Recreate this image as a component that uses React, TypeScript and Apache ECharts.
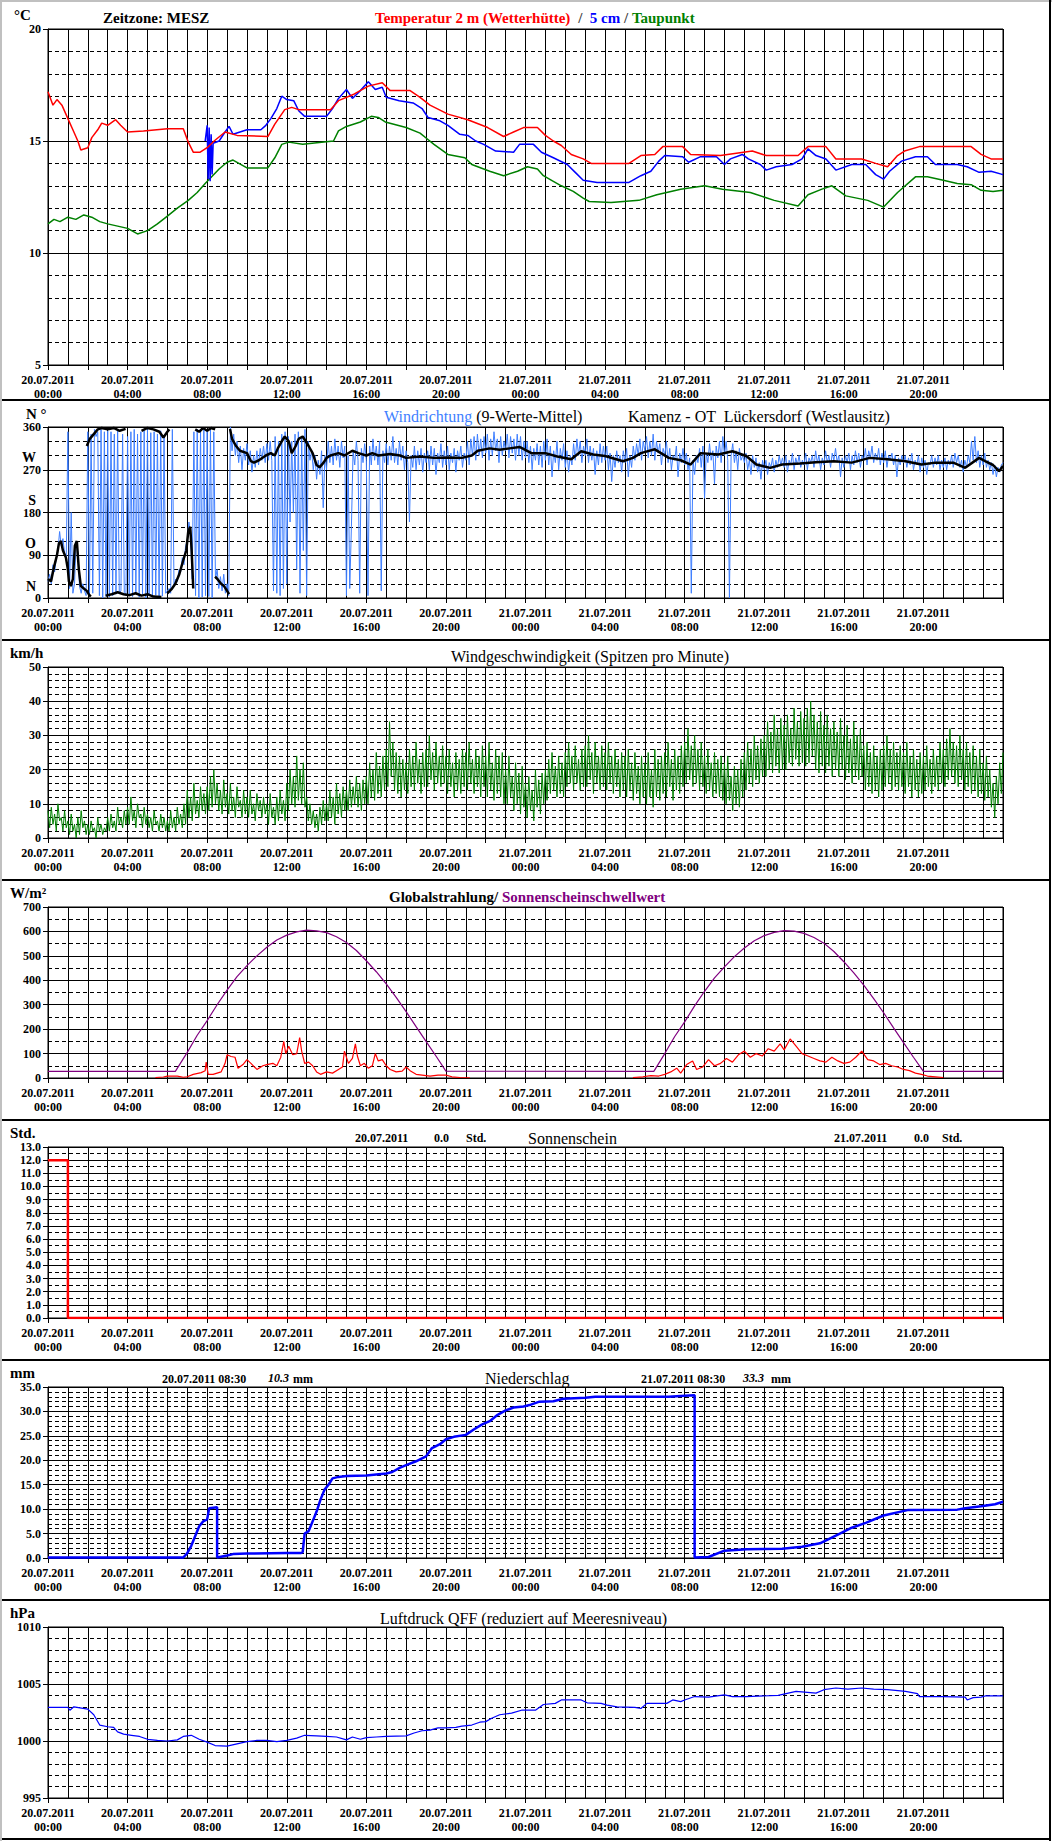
import React, { useEffect, useRef } from 'react';
import * as echarts from 'echarts';

const FONT = '"Liberation Serif", "Times New Roman", Times, serif';

// ---- tick labels ----
const dateLabels = ['20.07.2011', '21.07.2011'];
const hourLabels = ['00:00', '04:00', '08:00', '12:00', '16:00', '20:00'];

// ---- Temperature [hour, °C] ----
const temp2m = [[0,17.2],[0.25,16.6],[0.45,16.85],[0.7,16.6],[0.9,16.2],[1.05,15.9],[1.25,15.5],[1.5,15.0],[1.65,14.6],[2.0,14.7],[2.2,15.15],[2.5,15.5],[2.7,15.8],[3.0,15.7],[3.4,15.95],[3.65,15.7],[4.0,15.4],[4.8,15.45],[6.0,15.55],[6.8,15.55],[7.05,14.95],[7.3,14.5],[7.65,14.5],[8.0,14.7],[8.35,15.0],[8.9,15.4],[9.5,15.25],[11.05,15.2],[11.4,15.75],[11.9,16.4],[12.25,16.5],[12.6,16.4],[14.2,16.4],[14.6,16.8],[15.4,17.1],[16.1,17.45],[16.8,17.6],[17.2,17.25],[18.2,17.25],[18.7,16.95],[19.2,16.6],[20.1,16.2],[21.1,15.95],[22.1,15.6],[22.9,15.2],[23.4,15.4],[23.9,15.6],[24.6,15.6],[25.0,15.25],[25.4,15.0],[25.8,14.8],[26.3,14.4],[26.9,14.2],[27.3,14.0],[29.2,14.0],[29.8,14.35],[30.5,14.4],[30.9,14.75],[31.9,14.75],[32.3,14.4],[33.8,14.35],[35.4,14.55],[36.1,14.35],[37.7,14.35],[38.2,14.75],[39.1,14.75],[39.6,14.2],[40.9,14.2],[41.6,14.0],[42.2,13.85],[42.7,14.35],[43.05,14.55],[43.8,14.75],[46.4,14.75],[46.9,14.4],[47.4,14.2],[48,14.2]];
const temp5cm = [[7.9,15.0],[8.0,15.7],[8.05,13.3],[8.1,15.6],[8.15,13.2],[8.2,15.3],[8.25,13.5],[8.3,14.9],[8.6,15.0],[8.9,15.4],[9.1,15.65],[9.3,15.3],[9.65,15.4],[10.0,15.5],[10.7,15.5],[10.95,15.7],[11.2,16.0],[11.5,16.45],[11.75,17.0],[12.0,16.85],[12.35,16.8],[12.6,16.35],[12.9,16.1],[14.0,16.1],[14.3,16.45],[14.6,16.9],[15.0,17.3],[15.3,16.9],[15.7,17.25],[16.1,17.65],[16.45,17.3],[16.8,17.4],[17.0,16.95],[17.65,16.8],[18.35,16.7],[18.8,16.45],[19.1,16.05],[19.7,15.9],[20.1,15.7],[20.7,15.3],[21.1,15.25],[21.5,15.0],[21.9,14.85],[22.5,14.55],[23.4,14.5],[23.7,14.85],[24.4,14.85],[24.8,14.5],[25.4,14.25],[26.1,13.95],[26.5,13.6],[26.9,13.25],[27.6,13.15],[29.2,13.15],[29.8,13.45],[30.3,13.65],[30.7,14.1],[31.0,14.35],[31.9,14.3],[32.2,14.05],[32.8,14.3],[33.6,14.3],[34.0,13.95],[34.3,14.2],[34.9,14.4],[35.2,14.2],[35.8,13.95],[36.1,13.7],[36.6,13.85],[37.4,13.95],[37.9,14.2],[38.2,14.65],[38.6,14.35],[39.1,14.2],[39.6,13.7],[40.4,13.95],[41.1,13.95],[41.6,13.5],[42.0,13.3],[42.3,13.65],[42.9,14.1],[43.6,14.3],[44.2,14.3],[44.6,13.95],[45.7,13.95],[46.2,13.85],[46.8,13.6],[47.4,13.65],[48,13.5]];
const dewPoint = [[0,11.3],[0.3,11.5],[0.6,11.4],[1.0,11.6],[1.4,11.5],[1.8,11.7],[2.2,11.6],[2.6,11.4],[3.0,11.3],[3.5,11.2],[4.0,11.1],[4.5,10.85],[5.0,11.0],[5.5,11.3],[6.0,11.65],[6.5,12.0],[7.05,12.35],[7.5,12.7],[7.9,13.1],[8.6,13.75],[9.0,14.05],[9.3,14.15],[10.0,13.8],[11.05,13.8],[11.4,14.25],[11.75,14.85],[12.1,14.95],[12.8,14.85],[14.35,15.0],[14.6,15.45],[15.0,15.65],[15.7,15.85],[16.25,16.1],[16.6,16.05],[16.95,15.85],[18.0,15.6],[18.7,15.35],[19.05,15.1],[19.4,14.85],[20.1,14.4],[20.95,14.25],[21.3,13.95],[22.2,13.65],[22.9,13.45],[23.6,13.65],[24.1,13.85],[24.6,13.75],[24.9,13.45],[25.4,13.2],[25.8,13.0],[26.4,12.75],[26.9,12.45],[27.2,12.3],[28.3,12.25],[29.7,12.35],[30.6,12.6],[31.8,12.85],[33.0,13.0],[33.9,12.85],[35.3,12.7],[36.5,12.35],[37.7,12.1],[38.2,12.6],[38.9,12.85],[39.4,13.0],[40.1,12.55],[41.2,12.35],[42.0,12.05],[42.7,12.7],[43.6,13.4],[44.2,13.4],[45.0,13.25],[45.7,13.1],[46.4,13.05],[46.9,12.8],[47.5,12.75],[48,12.8]];

// ---- Wind direction, raw values every 5 minutes (one row per hour) ----
const windDirRaw = [
  35,50,30,70,55,85,100,140,110,125,95,80,
  350,20,180,10,30,120,95,25,10,30,15,5,
  350,5,345,10,355,340,350,5,355,0,350,3,
  352,2,350,5,345,8,355,10,15,345,12,5,
  340,5,350,3,355,10,345,2,350,8,352,0,
  355,5,348,2,350,6,345,0,352,4,340,10,
  15,20,10,355,25,40,35,60,55,85,70,110,
  120,160,130,40,350,5,355,0,350,2,358,5,
  352,3,355,0,350,40,60,20,45,15,50,10,
  30,5,360,310,345,300,330,285,320,270,315,290,
  325,280,310,265,300,275,310,280,315,290,320,285,
  325,290,330,290,15,340,10,330,5,345,20,350,
  30,340,160,330,180,345,60,350,10,340,100,355,
  5,330,290,310,270,300,250,290,260,310,190,300,
  270,330,285,320,280,335,290,320,275,330,295,320,
  5,300,20,150,310,280,330,290,10,315,285,325,
  290,5,320,280,335,290,320,280,330,15,310,285,
  325,280,320,290,340,285,315,280,330,290,320,270,
  310,285,160,300,275,320,270,310,280,315,265,305,
  285,310,270,320,280,315,260,305,285,325,275,310,
  280,320,270,305,285,315,265,310,290,320,275,305,
  290,330,280,335,300,340,290,345,300,335,295,340,
  305,345,290,335,300,350,310,335,285,340,300,330,
  310,345,295,340,305,335,290,345,300,340,290,330,
  295,330,285,320,270,315,290,325,280,320,275,330,
  290,335,280,320,255,310,285,330,270,315,290,325,
  275,310,265,300,280,325,290,335,300,330,285,320,
  300,335,285,320,290,315,260,310,280,325,285,320,
  290,320,270,305,245,300,275,310,285,300,265,310,
  285,315,255,300,275,320,290,325,300,335,290,330,
  310,340,295,330,300,345,290,330,305,325,280,315,
  300,330,285,315,270,300,290,320,255,305,285,315,
  280,305,270,295,10,290,260,300,285,315,275,320,
  210,305,285,325,290,310,240,320,295,330,285,340,
  300,330,290,0,300,325,285,310,270,315,290,300,
  285,305,270,290,260,300,275,295,265,285,250,290,
  270,290,260,285,275,295,265,290,275,300,280,295,
  275,300,265,290,280,305,270,295,280,300,275,290,
  280,305,270,295,285,300,275,310,285,300,270,295,
  280,310,285,300,275,305,290,315,285,300,255,295,
  275,300,285,305,270,300,280,310,285,305,275,300,
  290,315,280,310,295,320,285,305,290,315,280,305,
  285,310,275,300,290,305,280,300,255,295,280,300,
  285,300,275,295,280,305,270,290,280,300,265,295,
  275,290,260,285,280,300,275,295,280,300,270,290,
  275,295,270,290,280,300,275,305,285,300,275,290,
  265,290,275,300,285,330,290,340,285,310,275,300,
  280,305,275,290,270,285,260,280,255,275,265,280,
  285
];
// 9-value mean [hour, deg], '-' = break at 0/360 wrap
const windDirMean = [[0,40],[0.15,35],[0.3,65],[0.45,90],[0.55,115],[0.65,120],[0.75,100],[0.9,85],[1.0,60],[1.05,35],[1.15,25],[1.25,40],[1.35,110],[1.45,120],[1.55,60],[1.65,25],[1.8,20],[1.95,15],[2.05,8],[2.15,3],[2.2,'-'],
[1.95,320],[2.1,335],[2.3,345],[2.5,355],[2.7,358],[3.0,355],[3.3,358],[3.6,352],[3.9,356],[3.95,'-'],
[2.9,5],[3.2,8],[3.5,12],[3.8,8],[4.1,6],[4.4,10],[4.7,5],[5.0,8],[5.3,3],[5.7,2],[5.75,'-'],
[4.7,352],[5.0,358],[5.3,355],[5.6,350],[5.8,338],[6.0,350],[6.1,355],[6.15,'-'],
[6.0,10],[6.2,18],[6.4,30],[6.6,50],[6.8,80],[6.95,100],[7.05,140],[7.15,150],[7.22,100],[7.3,20],[7.35,'-'],
[7.4,355],[7.6,350],[7.8,358],[8.0,352],[8.2,358],[8.4,355],[8.42,'-'],
[8.4,45],[8.55,38],[8.7,30],[8.85,25],[9.0,15],[9.1,8],[9.12,'-'],
[9.15,356],[9.25,335],[9.45,320],[9.65,310],[10.0,305],[10.2,288],[10.35,285],[10.6,290],[10.95,300],[11.2,305],[11.4,300],[11.55,315],[11.75,330],[11.9,340],[12.1,330],[12.25,305],[12.45,320],[12.6,335],[12.8,340],[12.95,330],[13.1,320],[13.3,305],[13.5,280],[13.65,275],[13.85,285],[14.0,295],[14.2,300],[14.6,305],[14.9,300],[15.3,310],[15.6,305],[16.0,300],[16.3,305],[16.6,300],[17.2,303],[17.7,300],[18.0,295],[18.7,298],[19.4,295],[20.1,296],[20.8,295],[21.3,300],[21.6,310],[22.2,315],[22.7,312],[23.2,315],[23.7,318],[24.3,305],[25.0,305],[25.6,298],[26.3,292],[26.8,309],[27.4,302],[28.0,299],[28.9,288],[29.4,295],[29.8,305],[30.5,313],[31.2,295],[31.8,290],[32.3,281],[32.8,305],[33.7,302],[34.4,309],[35.1,299],[35.6,281],[36.3,274],[36.9,281],[37.8,283],[38.6,286],[39.5,288],[40.4,285],[41.3,295],[42.2,292],[43.1,288],[43.9,281],[44.6,285],[45.5,285],[46.1,274],[46.8,295],[47.1,288],[47.5,280],[47.8,267],[48,278]];

// ---- Wind speed peaks, every 5 minutes (one row per hour) ----
const windSpeed = [
  8,3,9,4,7,2,10,5,6,2,8,3,
  5,1,7,2,4,0,6,1,8,3,5,1,
  4,1,5,2,3,0,6,2,4,1,3,2,
  6,2,7,3,5,2,9,4,6,3,8,4,
  9,4,12,5,8,3,10,6,7,3,9,4,
  7,3,6,2,8,4,5,2,7,3,6,2,
  5,2,8,3,6,2,9,4,7,3,10,4,
  14,6,12,5,16,7,11,6,15,8,13,7,
  15,8,18,9,20,10,16,8,14,7,17,9,
  13,7,16,8,12,6,15,9,11,6,14,7,
  12,6,14,7,10,5,13,8,11,6,12,7,
  10,4,13,6,9,4,12,5,14,7,11,5,
  16,8,20,10,18,9,24,11,20,10,22,9,
  12,5,10,4,8,3,7,2,9,4,11,5,
  10,5,14,6,12,4,16,7,13,6,15,8,
  14,8,17,9,15,10,18,9,16,8,17,10,
  18,10,22,12,20,11,25,13,21,12,24,14,
  26,15,34,18,28,14,25,13,24,12,23,14,
  22,13,26,15,24,14,28,16,23,13,25,15,
  26,15,30,17,25,14,28,16,24,15,27,16,
  24,13,26,15,22,12,25,14,23,13,26,15,
  25,14,28,16,23,13,26,15,24,12,27,15,
  24,12,28,14,22,11,26,13,24,12,25,10,
  20,10,24,12,18,8,22,10,19,7,21,9,
  16,6,18,8,14,5,20,9,17,7,19,10,
  20,11,23,13,25,14,21,12,24,13,22,12,
  25,15,28,16,24,14,27,16,23,14,26,15,
  27,15,30,17,25,13,28,16,24,14,27,15,
  25,14,28,16,24,13,26,15,23,12,25,14,
  24,12,26,14,22,11,25,13,21,10,24,12,
  22,10,25,12,20,9,26,12,23,11,24,13,
  25,12,28,15,23,11,26,14,24,13,27,15,
  28,16,32,17,27,15,30,16,26,14,28,15,
  24,13,26,14,22,12,25,13,23,12,24,11,
  22,10,24,11,18,8,21,10,20,9,23,12,
  25,14,28,16,26,15,30,17,27,16,29,18,
  30,18,34,20,31,19,36,21,32,19,35,20,
  33,20,36,22,32,21,38,23,34,21,37,22,
  35,21,38,22,40,24,36,20,34,19,37,21,
  33,19,36,21,32,18,34,20,31,18,35,20,
  30,17,33,19,29,16,34,18,30,17,32,18,
  27,14,28,15,25,13,27,14,24,12,26,14,
  27,15,30,16,26,14,28,15,25,14,27,15,
  25,13,28,15,24,12,26,14,23,12,25,13,
  24,14,27,15,23,13,26,15,24,14,28,16,
  26,15,29,17,32,18,28,16,27,15,30,17,
  26,14,28,15,25,13,27,14,24,12,26,13,
  22,11,24,12,20,9,16,6,18,10,22,13,
  25
];

// ---- Global radiation / sunshine threshold [hour, W/m²] ----
const sunThreshold = [[0,27],[6.4,27],[7.0,105],[7.5,175],[8.0,235],[8.5,300],[9.0,360],[9.5,415],[10.0,460],[10.5,500],[11.0,535],[11.5,565],[12.0,585],[12.5,598],[13.0,605],[13.5,602],[14.0,595],[14.5,578],[15.0,555],[15.5,522],[16.0,480],[16.5,435],[17.0,385],[17.5,330],[18.0,272],[18.5,210],[19.0,150],[19.5,90],[20.0,28],[30.45,27],[31.0,100],[31.5,170],[32.0,230],[32.5,295],[33.0,355],[33.5,410],[34.0,455],[34.5,497],[35.0,532],[35.5,562],[36.0,583],[36.5,596],[37.0,603],[37.5,601],[38.0,592],[38.5,575],[39.0,552],[39.5,518],[40.0,476],[40.5,430],[41.0,380],[41.5,325],[42.0,267],[42.5,205],[43.0,145],[43.5,85],[44.0,27],[48,27]];
const globalRad = [[5.4,2],[5.8,4],[6.0,8],[6.5,8],[6.8,3],[7.0,5],[7.3,15],[7.7,22],[7.9,30],[7.95,65],[8.05,15],[8.3,15],[8.7,25],[8.9,60],[9.0,95],[9.2,88],[9.4,85],[9.55,40],[9.8,55],[10.0,75],[10.2,60],[10.5,35],[10.8,50],[11.0,55],[11.3,60],[11.5,50],[11.7,85],[11.85,150],[11.95,100],[12.1,130],[12.3,95],[12.5,100],[12.65,165],[12.75,110],[12.9,60],[13.1,65],[13.3,50],[13.5,25],[13.7,15],[14.0,25],[14.3,20],[14.6,35],[14.8,45],[14.9,110],[15.1,60],[15.3,80],[15.45,140],[15.55,90],[15.7,50],[15.9,60],[16.1,40],[16.3,50],[16.45,100],[16.6,70],[16.8,75],[17.0,50],[17.2,35],[17.5,25],[17.8,28],[18.0,45],[18.2,30],[18.5,15],[18.8,12],[19.2,8],[19.6,12],[20.0,12],[20.3,5],[20.7,2],[21.2,1],[21.3,'-'],
[29.4,2],[29.9,5],[30.3,10],[30.7,8],[31.0,15],[31.3,25],[31.6,40],[31.8,20],[32.1,55],[32.4,70],[32.6,35],[32.9,45],[33.2,75],[33.5,50],[33.8,60],[34.1,80],[34.4,65],[34.7,95],[35.0,110],[35.3,85],[35.6,100],[35.9,90],[36.2,120],[36.5,110],[36.8,140],[37.0,115],[37.3,160],[37.6,130],[37.9,100],[38.2,90],[38.5,80],[38.8,70],[39.1,65],[39.4,85],[39.7,70],[40.0,60],[40.3,65],[40.6,85],[40.9,110],[41.2,75],[41.5,70],[41.8,55],[42.1,60],[42.4,50],[42.7,45],[43.0,35],[43.3,30],[43.6,20],[43.9,15],[44.2,8],[44.6,5],[45.0,2]];

// ---- Sunshine duration [hour, h] ----
const sunshine = [[0,12.0],[1.0,12.0],[1.0,0],[48,0]];

// ---- Precipitation [hour, mm] ----
const precip = [[0,0.1],[6.8,0.1],[7.0,1.0],[7.2,2.5],[7.4,4.5],[7.6,6.5],[7.8,7.5],[8.0,7.9],[8.1,10.2],[8.3,10.3],[8.5,10.4],[8.5,0.1],[9.0,0.5],[9.3,0.8],[10.0,0.9],[12.0,1.0],[12.7,1.0],[12.8,1.2],[12.9,5.0],[13.1,5.5],[13.3,7.5],[13.5,9.5],[13.7,12.0],[13.9,14.0],[14.1,15.0],[14.3,16.3],[14.6,16.6],[15.0,16.8],[16.0,16.9],[16.5,17.1],[17.0,17.3],[17.3,17.6],[17.7,18.5],[18.0,19.0],[18.5,19.8],[19.0,20.8],[19.3,22.5],[19.7,23.3],[20.0,24.3],[20.4,24.8],[21.0,25.2],[21.4,26.3],[21.8,27.3],[22.2,28.0],[22.6,29.3],[23.0,30.2],[23.4,30.8],[23.9,31.0],[24.2,31.3],[24.7,32.0],[25.4,32.1],[25.9,32.6],[27.0,32.8],[27.5,33.0],[31.2,33.0],[32.0,33.2],[32.5,33.3],[32.5,0.1],[33.2,0.2],[34.0,1.5],[35.1,1.8],[36.9,1.9],[37.9,2.3],[38.8,3.0],[39.7,4.8],[40.4,6.2],[41.1,7.2],[42.0,8.7],[43.2,9.8],[45.7,9.9],[46.1,10.2],[46.9,10.6],[47.6,11.0],[48,11.5]];

// ---- Air pressure QFF [hour, hPa] ----
const pressure = [[0,1002.95],[1.0,1002.95],[1.1,1002.7],[1.3,1003.0],[2.0,1002.8],[2.3,1002.3],[2.6,1001.4],[3.0,1001.25],[3.3,1001.2],[3.5,1000.8],[3.8,1000.6],[4.2,1000.5],[4.6,1000.4],[5.0,1000.15],[5.5,1000.05],[6.0,1000.0],[6.5,1000.1],[6.8,1000.4],[7.2,1000.5],[7.6,1000.15],[8.0,999.9],[8.4,999.6],[9.0,999.55],[9.5,999.75],[10.0,999.95],[10.5,1000.05],[11.0,1000.05],[11.5,999.95],[12.0,1000.05],[12.5,1000.25],[12.9,1000.5],[13.5,1000.45],[14.0,1000.4],[14.5,1000.35],[15.0,1000.1],[15.3,1000.35],[15.7,1000.15],[16.0,1000.3],[16.5,1000.35],[17.0,1000.4],[18.0,1000.45],[18.4,1000.7],[18.8,1000.9],[19.2,1000.95],[19.6,1001.15],[20.0,1001.15],[20.5,1001.2],[20.8,1001.3],[21.3,1001.4],[21.7,1001.65],[22.0,1001.7],[22.3,1002.0],[22.7,1002.3],[23.3,1002.45],[23.8,1002.7],[24.5,1002.7],[24.9,1003.2],[25.5,1003.3],[25.8,1003.6],[26.8,1003.6],[27.1,1003.35],[27.8,1003.3],[28.1,1003.15],[28.6,1003.0],[29.5,1002.95],[29.8,1002.85],[30.1,1003.3],[31.1,1003.3],[31.4,1003.6],[31.8,1003.45],[32.0,1003.6],[32.5,1003.9],[33.2,1003.85],[34.0,1004.05],[34.4,1003.9],[35.1,1003.9],[36.7,1004.0],[37.6,1004.35],[38.6,1004.2],[39.0,1004.5],[39.6,1004.65],[40.2,1004.55],[40.9,1004.65],[41.5,1004.55],[42.2,1004.5],[43.1,1004.35],[43.7,1004.15],[43.8,1003.9],[45.0,1003.9],[46.1,1003.85],[46.2,1003.6],[46.5,1003.8],[46.9,1003.85],[47.1,1003.95],[48,1003.95]];

// compass letters for the wind direction axis
const compassLetters = { 0: 'N', 90: 'O', 180: 'S', 270: 'W' };

function fmtTime(v: number) {
  if (v % 4 !== 0 || v >= 48) return '';
  const d = Math.floor(v / 24);
  return dateLabels[d] + '\n' + hourLabels[(v % 24) / 4];
}

function buildOption() {
  const panels = [
    { top: 29, height: 336, min: 5, max: 20, interval: 5, minor: 5, fmt: (v: number) => String(v) },
    { top: 427, height: 171, min: 0, max: 360, interval: 90, minor: 3, fmt: (v: number) => String(v) },
    { top: 667, height: 171, min: 0, max: 50, interval: 10, minor: 5, fmt: (v: number) => String(v) },
    { top: 907, height: 171, min: 0, max: 700, interval: 100, minor: 2, fmt: (v: number) => String(v) },
    { top: 1147, height: 171, min: 0, max: 13, interval: 1, minor: 2, fmt: (v: number) => v.toFixed(1) },
    { top: 1387, height: 171, min: 0, max: 35, interval: 5, minor: 5, fmt: (v: number) => v.toFixed(1) },
    { top: 1627, height: 171, min: 995, max: 1010, interval: 5, minor: 5, fmt: (v: number) => String(v) },
  ];
  const grid: any[] = [];
  const xAxis: any[] = [];
  const yAxis: any[] = [];
  panels.forEach((p, gi) => {
    grid.push({ left: 48, width: 955, top: p.top, height: p.height, show: true, borderColor: '#000', borderWidth: 1, backgroundColor: 'transparent' });
    xAxis.push({
      type: 'value', gridIndex: gi, min: 0, max: 48, interval: 1, position: 'bottom',
      axisLine: { show: true, onZero: false, lineStyle: { color: '#000', width: 1 } },
      axisTick: { show: false }, axisLabel: { show: false },
      splitLine: { show: true, lineStyle: { color: '#000', width: 1 } },
    });
    xAxis.push({
      type: 'value', gridIndex: gi, min: 0, max: 48, interval: 2, position: 'bottom',
      axisLine: { show: false, onZero: false },
      axisTick: { show: true, length: 5, lineStyle: { color: '#000', width: 1 } },
      axisLabel: { show: true, formatter: fmtTime, color: '#000', fontFamily: FONT, fontWeight: 'bold', fontSize: 12, lineHeight: 14, margin: 8 },
      splitLine: { show: false },
    });
    yAxis.push({
      type: 'value', gridIndex: gi, min: p.min, max: p.max, interval: p.interval, position: 'left',
      axisLine: { show: true, onZero: false, lineStyle: { color: '#000', width: 1 } },
      axisTick: { show: true, length: 5, lineStyle: { color: '#000', width: 1 } },
      axisLabel: { color: '#000', fontFamily: FONT, fontWeight: 'bold', fontSize: 12, margin: 7, formatter: p.fmt },
      splitLine: { show: true, lineStyle: { color: '#000', width: 1 } },
      minorTick: { show: false, splitNumber: p.minor },
      minorSplitLine: { show: true, lineStyle: { color: '#000', width: 1, type: [4, 3] } },
    });
  });
  // compass letters axis for wind direction
  yAxis.push({
    type: 'value', gridIndex: 1, min: 0, max: 360, interval: 90, position: 'left',
    axisLine: { show: false }, axisTick: { show: false },
    axisLabel: { color: '#000', fontFamily: FONT, fontWeight: 'bold', fontSize: 14, margin: 12, verticalAlign: 'bottom', padding: [0, 0, 5, 0],
      formatter: (v: number) => (compassLetters as any)[v] || '' },
    splitLine: { show: false },
  });

  const line = (gi: number, data: any[], color: string, width: number, z = 2) => ({
    type: 'line', xAxisIndex: gi * 2, yAxisIndex: gi, data, showSymbol: false, symbol: 'none',
    lineStyle: { color, width }, itemStyle: { color }, silent: true, z, connectNulls: false,
    emphasis: { disabled: true },
  });
  const byFiveMin = (arr: number[]) => arr.map((v, i) => [i / 12, v]);

  const series = [
    line(0, dewPoint, '#008000', 1.5),
    line(0, temp5cm, '#0000ff', 1.5, 3),
    line(0, temp2m, '#ff0000', 1.5, 4),
    line(1, byFiveMin(windDirRaw), '#3f7fff', 1),
    line(1, windDirMean, '#000000', 2.5, 3),
    line(2, byFiveMin(windSpeed), '#008000', 1),
    line(3, sunThreshold, '#800080', 1.2),
    line(3, globalRad, '#ff0000', 1.2, 3),
    line(4, sunshine, '#ff0000', 2.5),
    line(5, precip, '#0000ff', 2.5),
    line(6, pressure, '#0000ff', 1.2),
  ];

  const t = (x: number, y: number, text: string, font: string, fill = '#000', extra: any = {}) => ({
    type: 'text', x, y, silent: true, z: 10,
    style: Object.assign({ text, fill, font, align: 'left', verticalAlign: 'middle' }, extra),
  });
  const rect = (x: number, y: number, w: number, h: number, fill: string) => ({
    type: 'rect', shape: { x, y, width: w, height: h }, style: { fill }, silent: true, z: 10,
  });
  const B15 = 'bold 15px ' + FONT;
  const B14 = 'bold 14px ' + FONT;
  const B12 = 'bold 12px ' + FONT;
  const BI12 = 'italic bold 12px ' + FONT;
  const R16 = '16px ' + FONT;
  const rs = (fill: string, size: number, weight: string) => ({ fill, color: fill, fontSize: size, fontFamily: FONT, fontWeight: weight });

  const graphic: any[] = [
    rect(0, 0, 1052, 2, '#c0c0c0'),
    rect(0, 0, 2, 1841, '#c0c0c0'),
    rect(1049, 0, 2, 1841, '#000'),
    rect(2, 1838, 1049, 2, '#000'),
    rect(2, 399, 1049, 2, '#000'),
    rect(2, 639, 1049, 2, '#000'),
    rect(2, 879, 1049, 2, '#000'),
    rect(2, 1119, 1049, 2, '#000'),
    rect(2, 1359, 1049, 2, '#000'),
    rect(2, 1599, 1049, 2, '#000'),
    // panel 1
    t(14, 15, '°C', B15),
    t(103, 18, 'Zeitzone: MESZ', B15),
    t(375, 18, '{r|Temperatur 2 m (Wetterhütte)}{k|  /  }{b|5 cm}{k| / }{g|Taupunkt}', B15, '#000', {
      rich: { r: rs('#ff0000', 15, 'bold'), k: rs('#404040', 15, 'bold'), b: rs('#0000ff', 15, 'bold'), g: rs('#008000', 15, 'bold') },
    }),
    // panel 2
    t(26, 414, 'N °', B15),
    t(384, 416, '{b|Windrichtung}{k| (9-Werte-Mittel)}', R16, '#000', {
      rich: { b: rs('#3f7fff', 16, 'normal'), k: rs('#000', 16, 'normal') },
    }),
    t(628, 416, 'Kamenz - OT  Lückersdorf (Westlausitz)', R16),
    // panel 3
    t(10, 653, 'km/h', B15),
    t(451, 656, 'Windgeschwindigkeit (Spitzen pro Minute)', R16),
    // panel 4
    t(10, 893, 'W/m²', B15),
    t(389, 897, '{k|Globalstrahlung/ }{p|Sonnenscheinschwellwert}', B15, '#000', {
      rich: { k: rs('#000', 15, 'bold'), p: rs('#800080', 15, 'bold') },
    }),
    // panel 5
    t(10, 1133, 'Std.', B15),
    t(355, 1138, '20.07.2011', B12),
    t(434, 1138, '0.0', B12),
    t(466, 1138, 'Std.', B12),
    t(528, 1138, 'Sonnenschein', R16),
    t(834, 1138, '21.07.2011', B12),
    t(914, 1138, '0.0', B12),
    t(942, 1138, 'Std.', B12),
    // panel 6
    t(10, 1373, 'mm', B15),
    t(162, 1379, '20.07.2011 08:30', B12),
    t(268, 1378, '10.3', BI12),
    t(293, 1379, 'mm', B12),
    t(485, 1378, 'Niederschlag', R16),
    rect(485, 1387, 85, 1, '#000'),
    t(641, 1379, '21.07.2011 08:30', B12),
    t(743, 1378, '33.3', BI12),
    t(771, 1379, 'mm', B12),
    // panel 7
    t(10, 1613, 'hPa', B15),
    t(380, 1618, 'Luftdruck QFF (reduziert auf Meeresniveau)', R16),
  ];

  return { animation: false, backgroundColor: '#ffffff', grid, xAxis, yAxis, series, graphic };
}

export default function App() {
  const ref = useRef<HTMLDivElement>(null);
  useEffect(() => {
    document.body.style.margin = '0';
    const chart = echarts.init(ref.current as HTMLDivElement, null, { renderer: 'svg' });
    chart.setOption(buildOption() as any);
    return () => chart.dispose();
  }, []);
  return <div ref={ref} style={{ width: 1052, height: 1841, background: '#fff' }} />;
}
